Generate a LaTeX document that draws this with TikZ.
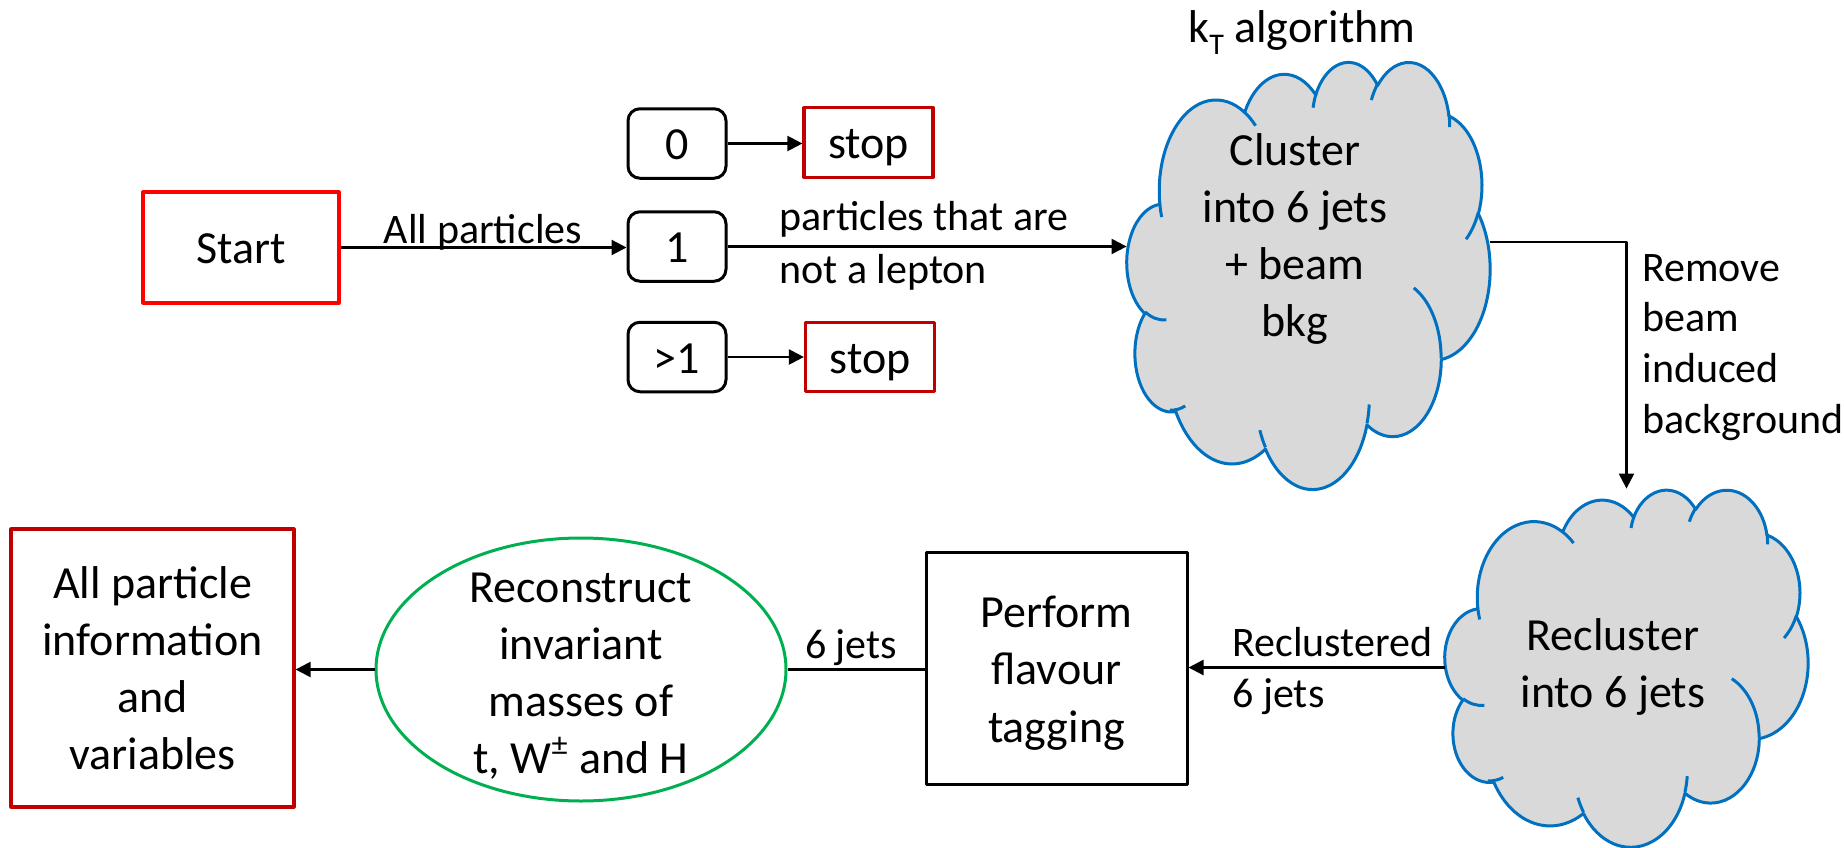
\documentclass[tikz,border=0pt]{standalone}
\usepackage{fontspec}
\setmainfont{Carlito}
\usetikzlibrary{arrows.meta,fit,shapes.geometric}

\definecolor{boxred}{HTML}{FF0000}
\definecolor{stopred}{HTML}{C00000}
\definecolor{ellgreen}{HTML}{00B050}
\definecolor{cloudblue}{HTML}{0070C0}
\definecolor{cloudgray}{HTML}{D9D9D9}

% elliptic arc given by radii and visual start/sweep angles (DrawingML style)
\newcommand\pptarc[4]{arc[x radius=#1, y radius=#2,
  start angle={atan2(#1*sin(#3),#2*cos(#3))},
  delta angle={mod(atan2(#1*sin(#3+#4),#2*cos(#3+#4))-atan2(#1*sin(#3),#2*cos(#3))+720,360)}]}

% cloud outline in a 432 x 432 box, placed at (#1,#2) with unit vectors #3, #4
\newcommand\drawcloud[4]{%
  \begin{scope}[shift={(#1,#2)}, x=#3, y=#4]
    \path[cloudbody] (39.00,143.70)
      \pptarc{67.53}{91.90}{-190.487}{123.781}
      \pptarc{53.33}{72.67}{-144.102}{89.945}
      \pptarc{43.65}{59.45}{-145.808}{99.723}
      \pptarc{48.57}{65.95}{-130.986}{117.242}
      \pptarc{53.33}{72.73}{-78.709}{109.027}
      \pptarc{67.75}{92.20}{-46.267}{130.269}
      \pptarc{57.85}{78.67}{0.625}{114.033}
      \pptarc{67.52}{92.15}{22.452}{115.173}
      \pptarc{77.20}{105.43}{66.243}{75.711}
      \pptarc{43.60}{59.18}{-274.942}{146.736}
      \pptarc{43.45}{59.45}{-246.829}{152.519} -- cycle;
    \path[cloudedge]
      (46.93,261.77) \pptarc{43.45}{59.45}{86.742}{26.430}
      (69.28,348.99) \pptarc{43.60}{59.18}{73.610}{18.465}
      (164.78,390.90) \pptarc{67.52}{92.15}{137.624}{14.081}
      (288.27,347.51) \pptarc{67.52}{92.15}{6.453}{15.998}
      (341.29,229.54) \pptarc{57.85}{78.67}{-70.292}{70.917}
      (417.98,153.54) \pptarc{53.33}{72.73}{30.318}{27.752}
      (383.24,54.26) \pptarc{48.57}{65.95}{-13.744}{14.859}
      (290.78,39.52) \pptarc{48.57}{65.95}{-149.181}{18.195}
      (221.41,47.20) \pptarc{43.65}{59.45}{-163.494}{17.686}
      (140.00,51.92) \pptarc{67.53}{91.90}{-66.707}{12.319}
      (41.27,157.89) \pptarc{67.53}{91.90}{157.654}{11.858};
  \end{scope}}

\tikzset{
  nodetext/.style={font=\fontsize{23pt}{28.6pt}\selectfont, align=center, inner sep=0pt},
  oneline/.style={text height=20.7pt, text depth=4.6pt},
  labeltext/.style={font=\fontsize{21pt}{25.4pt}\selectfont, inner sep=0pt},
  startbox/.style={nodetext, oneline, draw=boxred, line width=1.6pt, minimum width=98pt, minimum height=55.5pt},
  stopbox/.style={nodetext, oneline, draw=stopred, line width=1.6pt, minimum width=64.5pt, minimum height=34.75pt},
  countbox/.style={nodetext, oneline, draw=black, line width=1.5pt, rounded corners=6pt, minimum width=49pt, minimum height=34.75pt},
  plainbox/.style={nodetext, draw=black, line width=1.5pt},
  finalbox/.style={nodetext, draw=stopred, line width=1.6pt},
  recoshape/.style={ellipse, draw=ellgreen, line width=1.5pt, inner sep=0pt, minimum width=205pt, minimum height=131.5pt},
  cloudbody/.style={fill=cloudgray, draw=cloudblue, line width=1.5pt},
  cloudedge/.style={draw=cloudblue, line width=1.5pt},
  link/.style={line width=1.1pt},
  flow/.style={link, -{Triangle[length=7.5pt,width=7.5pt]}}
}

\begin{document}
\begin{tikzpicture}[x=0.5pt, y=-0.5pt, line join=round]
  \useasboundingbox (0,0) rectangle (1844,847);

  % clouds
  \node[fit={(1127,61) (1490,488)}, inner sep=0pt] (cloudA) {};
  \node[fit={(1445,489) (1808,846)}, inner sep=0pt] (cloudB) {};
  \drawcloud{1127}{61}{0.42014pt}{-0.49421pt}
  \drawcloud{1445}{489}{0.42014pt}{-0.41319pt}
  \node[nodetext] (clustertext) at (1295,239) {Cluster\\into 6 jets\\+ beam\\bkg};
  \node[nodetext] (recltext) at (1613,667) {Recluster\\into 6 jets};
  \node[nodetext, anchor=base] (kt) at (1302,42)
    {k\raisebox{-0.28em}{\fontsize{15pt}{15pt}\selectfont T} algorithm};

  % boxes of the top row
  \node[startbox] (start) at (241,247.5) {Start};
  \node[countbox] (zero) at (677,143.5) {0};
  \node[countbox] (one) at (677,246.5) {1};
  \node[countbox] (many) at (677,357) {>1};
  \node[stopbox] (stopA) at (868.5,142.5) {stop};
  \node[stopbox] (stopB) at (870,357) {stop};

  % bottom row
  \node[plainbox, minimum width=130.5pt, minimum height=116pt] (perform) at (1056.5,668) {};
  \node[nodetext] (performtext) at (1056.5,673) {Perform\\flavour\\tagging};
  \node[recoshape] (reco) at (581,669.5) {};
  \node[nodetext] (recotext) at (581,676) {Reconstruct\\invariant\\masses of\\t, W\textsuperscript{±} and H};
  \node[finalbox, minimum width=141.5pt, minimum height=139pt] (allinfo) at (152.5,668) {All particle\\information\\and\\variables};

  % connectors
  \coordinate (bend) at (1626.5,242);
  \draw[flow] (start.east) -- (start.east -| one.west);
  \draw[flow] (zero.east) -- (zero.east -| stopA.west);
  \draw[flow] (many.east) -- (many.east -| stopB.west);
  \draw[flow] (one.east) -- (one.east -| cloudA.west);
  \draw[flow] (bend -| cloudA.east) -- (bend) -- (cloudB.north);
  \draw[flow] (cloudB.west) -- (cloudB.west -| perform.east);
  \draw[link] (reco.east) -- (reco.east -| perform.west);
  \draw[flow] (reco.west) -- (reco.west -| allinfo.east);

  % connector labels
  \node[labeltext, anchor=base] (lblall) at (483,243) {All particles};
  \node[labeltext, anchor=west, align=left, font=\fontsize{21pt}{26.5pt}\selectfont] (lbllep) at (779,246) {particles that are\\not a lepton};
  \node[labeltext, anchor=west, align=left] (lblbeam) at (1642,347.5) {Remove\\beam\\induced\\background};
  \node[labeltext, anchor=west, align=left] (lblrecl) at (1232,671) {Reclustered\\6 jets};
  \node[labeltext, anchor=base] (lbljets) at (851,658) {6 jets};
\end{tikzpicture}
\end{document}
